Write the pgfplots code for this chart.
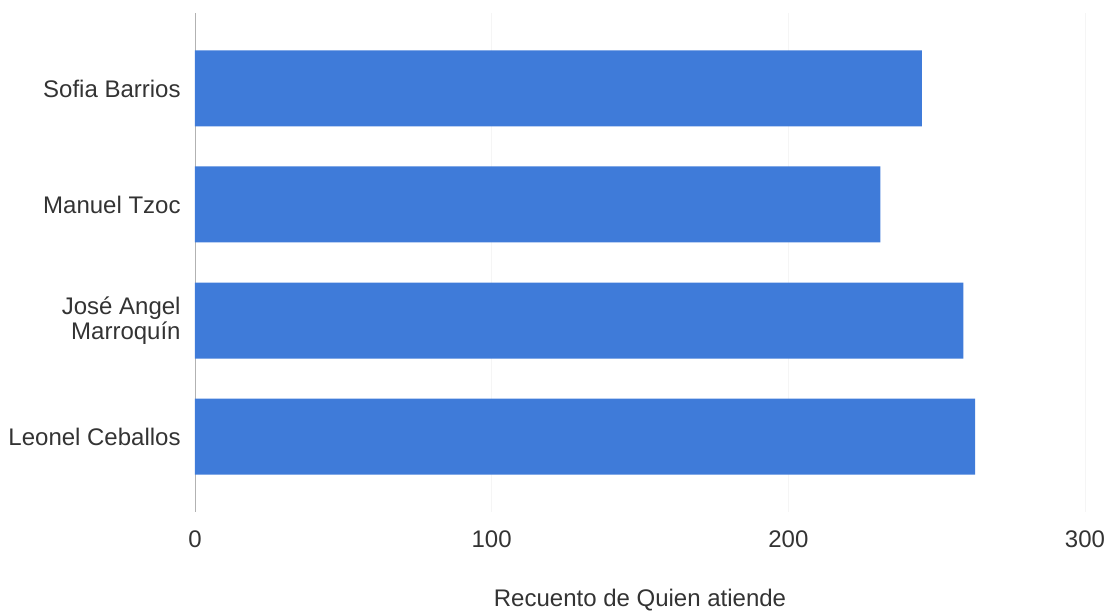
\documentclass[border=0pt]{standalone}
\usepackage{pgfplots}
\pgfplotsset{compat=1.18}
\usepackage{fontspec}
\setmainfont{Liberation Sans}
\definecolor{barblue}{HTML}{3F7BD9}

\begin{document}
\fontsize{12}{11}\selectfont
\begin{tikzpicture}
  % frame of the page: 1px of the reference = 0.5pt
  \path[use as bounding box] (-97.5pt,-51.5pt) rectangle (458.5pt,256pt);
  \begin{axis}[
    at={(0,0)}, anchor=south west,
    scale only axis,
    width=445pt, height=249.5pt,
    xbar, bar width=38pt,
    xmin=0, xmax=300,
    xtick={0,100,200,300},
    ymin=-0.65, ymax=3.65,
    y dir=reverse,
    ytick=data,
    yticklabels={Sofia Barrios, Manuel Tzoc, {José Angel\\Marroquín}, Leonel Ceballos},
    yticklabel style={align=right, xshift=-3pt, text=black!80},
    xticklabel style={yshift=-5pt, text=black!80},
    /pgf/number format/assume math mode=true,
    major tick length=0pt,
    axis x line*=bottom, axis y line*=left,
    separate axis lines,
    x axis line style={draw=none},
    y axis line style={draw=gray!60},
    xmajorgrids, grid style={gray!8},
    xlabel={Recuento de Quien atiende},
    xlabel style={at={(axis description cs:0.5,0)}, anchor=center, yshift=-44pt, text=black!80},
  ]
    \addplot[fill=barblue, draw=none] coordinates {
      (245,0)
      (231,1)
      (259,2)
      (263,3)
    };
  \end{axis}
\end{tikzpicture}
\end{document}
